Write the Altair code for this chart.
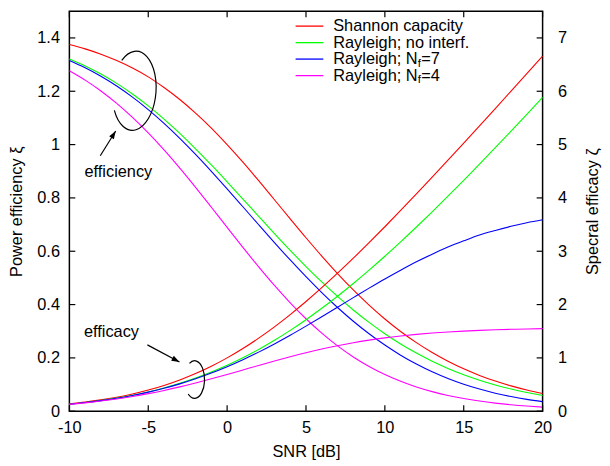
import altair as alt
import pandas as pd

# ---------------- data ----------------
snr_db = list(range(-10, 21))
series_names = ["Shannon capacity", "Rayleigh; no interf.", "Rayleigh; Nf=7", "Rayleigh; Nf=4"]
series_colors = ["#ff0000", "#00ff00", "#0000ff", "#ff00ff"]

# power efficiency (left axis)
shannon_eff = [1.375, 1.359, 1.339, 1.315, 1.287, 1.254, 1.214, 1.169, 1.118, 1.062, 1.000,
               0.934, 0.8645, 0.7932, 0.7215, 0.6506, 0.5819, 0.5164, 0.4548, 0.3979, 0.3459,
               0.2990, 0.2571, 0.2200, 0.1874, 0.1590, 0.1344, 0.1132, 0.0951, 0.0797, 0.0666]
ray_eff = [1.3210, 1.2950, 1.2646, 1.2296, 1.1899, 1.1453, 1.0958, 1.0420, 0.9843, 0.9235, 0.8604,
           0.7958, 0.7309, 0.6664, 0.6034, 0.5426, 0.4848, 0.4304, 0.3797, 0.3331, 0.2907,
           0.2523, 0.2180, 0.1874, 0.1605, 0.1369, 0.1164, 0.0986, 0.0832, 0.0701, 0.0588]
n7_eff = [1.3154, 1.2881, 1.2563, 1.2197, 1.1781, 1.1314, 1.0798, 1.0235, 0.9633, 0.8998, 0.8340,
          0.7668, 0.6993, 0.6325, 0.5672, 0.5045, 0.4450, 0.3891, 0.3376, 0.2905, 0.2481,
          0.2101, 0.1768, 0.1476, 0.1225, 0.1010, 0.0830, 0.0676, 0.0550, 0.0445, 0.0359]
n4_eff = [1.2772, 1.2419, 1.2012, 1.1546, 1.1020, 1.0438, 0.9801, 0.9117, 0.8397, 0.7650, 0.6893,
          0.6143, 0.5414, 0.4717, 0.4065, 0.3468, 0.2929, 0.2452, 0.2036, 0.1678, 0.1376,
          0.1121, 0.0909, 0.0735, 0.0592, 0.0475, 0.0381, 0.0305, 0.0243, 0.0194, 0.0155]

# spectral efficacy (right axis)
shannon_cap = [0.1375, 0.1711, 0.2123, 0.2625, 0.3233, 0.3964, 0.4835, 0.5861, 0.7057, 0.8434, 1.0,
               1.1756, 1.3701, 1.5827, 1.8122, 2.0574, 2.3165, 2.5879, 2.8699, 3.1609, 3.4594,
               3.7644, 4.0746, 4.3891, 4.7071, 5.0278, 5.3509, 5.6758, 6.0022, 6.3297, 6.6582]
ray_cap = [0.1321, 0.1630, 0.2004, 0.2454, 0.2989, 0.3622, 0.4363, 0.5223, 0.6211, 0.7335, 0.8604,
           1.0019, 1.1583, 1.3298, 1.5157, 1.7160, 1.9300, 2.1569, 2.3959, 2.6460, 2.9065,
           3.1763, 3.4544, 3.7400, 4.0322, 4.3303, 4.6333, 4.9408, 5.2521, 5.5667, 5.8841]
n7_cap = [0.1315, 0.1622, 0.1991, 0.2434, 0.2959, 0.3578, 0.4299, 0.5130, 0.6078, 0.7147, 0.8340,
          0.9653, 1.1084, 1.2620, 1.4248, 1.5955, 1.7714, 1.9502, 2.1298, 2.3079, 2.4807,
          2.6447, 2.8018, 2.9456, 3.0776, 3.1949, 3.3048, 3.3899, 3.4673, 3.5338, 3.5892]
n4_cap = [0.1277, 0.1563, 0.1904, 0.2304, 0.2768, 0.3301, 0.3902, 0.4569, 0.5298, 0.6077, 0.6893,
          0.7734, 0.8581, 0.9411, 1.0211, 1.0966, 1.1662, 1.2291, 1.2847, 1.3331, 1.3755,
          1.4110, 1.4410, 1.4656, 1.4857, 1.5024, 1.5157, 1.5270, 1.5358, 1.5431, 1.5489]

x_ticks = [-10, -5, 0, 5, 10, 15, 20]
left_ticks = [0, 0.2, 0.4, 0.6, 0.8, 1.0, 1.2, 1.4]
right_ticks = [0, 1, 2, 3, 4, 5, 6, 7]

# ---------------- tables ----------------
def long_table(cols):
    rows = []
    for name, vals in zip(series_names, cols):
        for s, v in zip(snr_db, vals):
            rows.append({"snr": s, "value": v, "series": name})
    return pd.DataFrame(rows)

eff_df = long_table([shannon_eff, ray_eff, n7_eff, n4_eff])
cap_df = long_table([shannon_cap, ray_cap, n7_cap, n4_cap])

# ---------------- layout / style ----------------
W, H = 478, 404
FONT = "Liberation Sans"
FS = 16.5
LW = 1.1

x_scale = alt.Scale(domain=[-10, 20], nice=False, zero=False)
yl_scale = alt.Scale(domain=[0, 1.5], nice=False)
yr_scale = alt.Scale(domain=[0, 7.5], nice=False)
color_scale = alt.Scale(domain=series_names, range=series_colors)

x_axis = alt.Axis(title="SNR [dB]", values=x_ticks, ticks=False, tickSize=0, domain=False, grid=False,
                  labelPadding=8, labelFontSize=FS, titleFontSize=FS, labelFont=FONT, titleFont=FONT,
                  titleFontWeight="normal", titleX=W / 2, titleY=41, titleBaseline="middle",
                  labelExpr="'' + datum.value", labelFlush=False, labelColor="black", titleColor="black")
yl_axis = alt.Axis(title="Power efficiency ξ", orient="left", values=left_ticks, ticks=False, tickSize=0,
                   domain=False, grid=False, labelPadding=10, labelFontSize=FS, titleFontSize=FS,
                   labelFont=FONT, titleFont=FONT, titleFontWeight="normal", titleAngle=270,
                   titleX=-53, titleY=H / 2, titleBaseline="middle", titleAlign="center",
                   labelExpr="'' + datum.value", labelColor="black", titleColor="black")
yr_axis = alt.Axis(title="Specral efficacy ζ", orient="right", values=right_ticks, ticks=False, tickSize=0,
                   domain=False, grid=False, labelPadding=15, labelFontSize=FS, titleFontSize=FS,
                   labelFont=FONT, titleFont=FONT, titleFontWeight="normal", titleAngle=270,
                   titleX=50, titleY=H / 2, titleBaseline="middle", titleAlign="center",
                   labelExpr="'' + datum.value", labelColor="black", titleColor="black")

X = alt.X("snr:Q", scale=x_scale, axis=x_axis)

eff_lines = alt.Chart(eff_df).mark_line(strokeWidth=LW, interpolate="monotone").encode(
    x=X,
    y=alt.Y("value:Q", scale=yl_scale, axis=yl_axis),
    color=alt.Color("series:N", scale=color_scale, legend=None, sort=series_names),
)
cap_lines = alt.Chart(cap_df).mark_line(strokeWidth=LW, interpolate="monotone").encode(
    x=X,
    y=alt.Y("value:Q", scale=yr_scale, axis=yr_axis),
    color=alt.Color("series:N", scale=color_scale, legend=None, sort=series_names),
)

xt_df = pd.DataFrame({"snr": x_ticks})
lt_df = pd.DataFrame({"value": left_ticks})
rt_df = pd.DataFrame({"value": right_ticks})
TL = 6
TW = 1.2
bottom_ticks = alt.Chart(xt_df).mark_rule(color="black", strokeWidth=TW).encode(
    x=X, y=alt.value(H), y2=alt.value(H - TL))
top_ticks = alt.Chart(xt_df).mark_rule(color="black", strokeWidth=TW).encode(
    x=X, y=alt.value(0), y2=alt.value(TL))
left_tk = alt.Chart(lt_df).mark_rule(color="black", strokeWidth=TW).encode(
    y=alt.Y("value:Q", scale=yl_scale, axis=yl_axis), x=alt.value(0), x2=alt.value(TL))
right_tk = alt.Chart(rt_df).mark_rule(color="black", strokeWidth=TW).encode(
    y=alt.Y("value:Q", scale=yr_scale, axis=yr_axis), x=alt.value(W - TL), x2=alt.value(W))

left_group = alt.layer(eff_lines, left_tk, bottom_ticks, top_ticks)
right_group = alt.layer(cap_lines, right_tk)

# ---------------- legend (drawn by hand) ----------------
one = pd.DataFrame({"k": [0]})
LX1, LX2, TX = 228.5, 256.5, 266.5
rows_y = [15, 31.7, 48.3, 65]
legend_layers = []
for name, col, yy in zip(series_names, series_colors, rows_y):
    legend_layers.append(alt.Chart(one).mark_rule(color=col, strokeWidth=1.3).encode(
        x=alt.value(LX1), x2=alt.value(LX2), y=alt.value(yy)))
txt = dict(font=FONT, fontSize=FS, align="left", baseline="middle", color="black")
legend_layers.append(alt.Chart(one).mark_text(text="Shannon capacity", **txt).encode(
    x=alt.value(TX), y=alt.value(rows_y[0])))
legend_layers.append(alt.Chart(one).mark_text(text="Rayleigh; no interf.", **txt).encode(
    x=alt.value(TX), y=alt.value(rows_y[1])))
NW = 85.3  # width of "Rayleigh; N"
for nf, yy in (("7", rows_y[2]), ("4", rows_y[3])):
    legend_layers.append(alt.Chart(one).mark_text(text="Rayleigh; N", **txt).encode(
        x=alt.value(TX), y=alt.value(yy)))
    legend_layers.append(alt.Chart(one).mark_text(text="f", font=FONT, fontSize=11.5, align="left",
                                                  baseline="middle", color="black").encode(
        x=alt.value(TX + NW), y=alt.value(yy + 4.5)))
    legend_layers.append(alt.Chart(one).mark_text(text="=" + nf, **txt).encode(
        x=alt.value(TX + NW + 3.6), y=alt.value(yy)))

# ---------------- annotations ----------------
ann = []
ann.append(alt.Chart(one).mark_text(text="efficiency", font=FONT, fontSize=FS, align="center",
                                    baseline="middle", color="black").encode(
    x=alt.value(49.5), y=alt.value(162.7)))
ann.append(alt.Chart(one).mark_text(text="efficacy", font=FONT, fontSize=FS, align="center",
                                    baseline="middle", color="black").encode(
    x=alt.value(42.5), y=alt.value(324)))
ann.append(alt.Chart(one).mark_point(shape="M -0.368 -0.743 A 0.55 1 0 1 1 -0.466 0.530",
                                     filled=False, stroke="black", strokeWidth=1.2, size=6400,
                                     opacity=1, angle=4).encode(
    x=alt.value(65.5), y=alt.value(80.3)))
ann.append(alt.Chart(one).mark_point(shape="M -0.273 -0.857 A 0.53 1 0 1 1 -0.341 0.766",
                                     filled=False, stroke="black", strokeWidth=1.2, size=1444,
                                     opacity=1).encode(
    x=alt.value(126.5), y=alt.value(372)))
ann.append(alt.Chart(one).mark_rule(color="black", strokeWidth=1.2).encode(
    x=alt.value(31.2), y=alt.value(146), x2=alt.value(46.8), y2=alt.value(121)))
ann.append(alt.Chart(one).mark_rule(color="black", strokeWidth=1.2).encode(
    x=alt.value(78.8), y=alt.value(337), x2=alt.value(111.2), y2=alt.value(354.3)))
HEAD = "M 0 0 L -0.35 1 L 0.35 1 Z"
ann.append(alt.Chart(one).mark_point(shape=HEAD, filled=True, color="black", size=256, opacity=1,
                                     angle=32).encode(x=alt.value(46.8), y=alt.value(121)))
ann.append(alt.Chart(one).mark_point(shape=HEAD, filled=True, color="black", size=256, opacity=1,
                                     angle=118).encode(x=alt.value(111.2), y=alt.value(354.3)))

chart = alt.layer(left_group, right_group, *legend_layers, *ann).resolve_scale(
    y="independent"
).properties(
    width=W, height=H,
    padding={"left": 62, "top": 1, "right": 60, "bottom": 50},
    autosize=alt.AutoSizeParams(type="none"),
    background="white",
).configure(font=FONT).configure_view(stroke="black", strokeWidth=1.5)

chart.save("out.html", embed_options={"renderer": "svg", "actions": False})
